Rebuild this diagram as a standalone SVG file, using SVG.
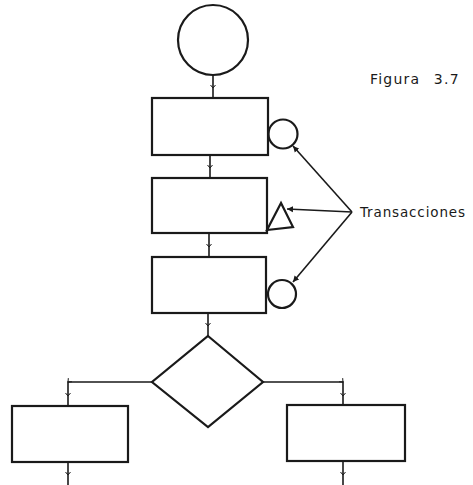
<svg xmlns="http://www.w3.org/2000/svg" width="473" height="485" viewBox="0 0 473 485">
<style>
.s{fill:none;stroke:#1a1a1a;stroke-width:2.2}
.c{fill:none;stroke:#1a1a1a;stroke-width:1.6}
.t{font-family:"DejaVu Sans","Liberation Sans",sans-serif;fill:#1a1a1a}
</style>
<defs>
<marker id="m" markerWidth="6" markerHeight="6" refX="3" refY="3" orient="auto" markerUnits="userSpaceOnUse">
<path d="M0,0.5 L3,3 L0,5.5" fill="none" stroke="#1a1a1a" stroke-width="1"/>
</marker>
<marker id="a" markerWidth="7" markerHeight="7" refX="6" refY="3.5" orient="auto" markerUnits="userSpaceOnUse">
<path d="M0,0.5 L6,3.5 L0,6.5 Z" fill="#1a1a1a"/>
</marker>
</defs>
<rect width="473" height="485" fill="#fff"/>
<g id="start"><circle class="s" cx="213" cy="40" r="35"/></g>
<g id="box1"><rect class="s" x="152" y="98" width="116" height="57"/></g>
<g id="circ1"><circle class="s" cx="283" cy="134" r="14.5"/></g>
<g id="box2"><rect class="s" x="152" y="178" width="115" height="55"/></g>
<g id="tri"><path class="s" d="M281,203 L267,230 L293,227 Z"/></g>
<g id="box3"><rect class="s" x="152" y="257" width="114" height="56"/></g>
<g id="circ3"><circle class="s" cx="282" cy="294" r="14"/></g>
<g id="dec"><path class="s" d="M208,336 L263,382 L208,427 L152,382 Z"/></g>
<g id="boxL"><rect class="s" x="12" y="406" width="116" height="56"/></g>
<g id="boxR"><rect class="s" x="287" y="405" width="118" height="56"/></g>
<g id="label"><text class="t" x="360" y="217" font-size="13.5" textLength="105">Transacciones</text></g>
<g id="fig"><text class="t" x="370" y="84" font-size="14" letter-spacing="1.2" word-spacing="8">Figura 3.7</text></g>
<g id="connectors">
<path class="c" d="M213,75 L213,88 L213,98" marker-mid="url(#m)"/>
<path class="c" d="M210,155 L210,168 L210,178" marker-mid="url(#m)"/>
<path class="c" d="M209,233 L209,247 L209,257" marker-mid="url(#m)"/>
<path class="c" d="M208,313 L208,326 L208,336" marker-mid="url(#m)"/>
<path class="c" d="M152,382 L68,382 L68,396 L68,406" marker-mid="url(#m)"/>
<path class="c" d="M263,382 L343,382 L343,396 L343,405" marker-mid="url(#m)"/>
<path class="c" d="M68,462 L68,475 L68,485" marker-mid="url(#m)"/>
<path class="c" d="M343,461 L343,475 L343,485" marker-mid="url(#m)"/>
<path class="c" d="M352,212 L293,146" marker-end="url(#a)"/>
<path class="c" d="M352,212 L287,209" marker-end="url(#a)"/>
<path class="c" d="M352,212 L293,282" marker-end="url(#a)"/>
</g>
</svg>
